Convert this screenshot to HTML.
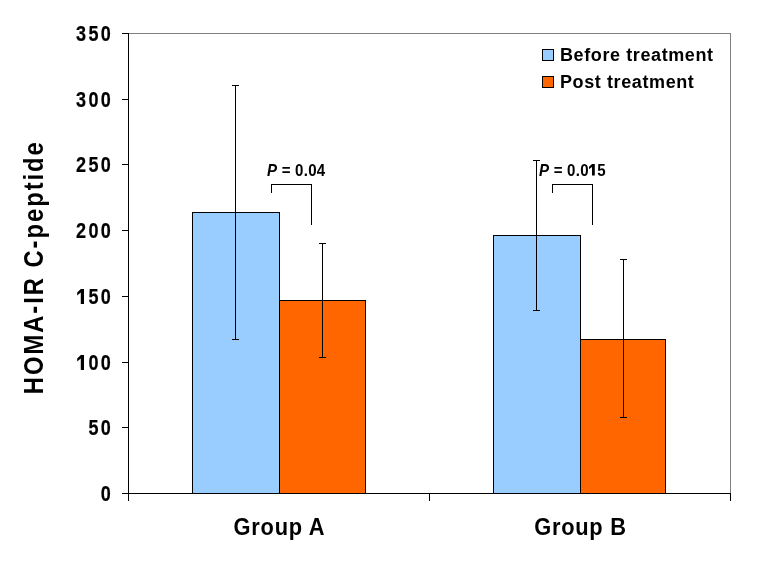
<!DOCTYPE html>
<html>
<head>
<meta charset="utf-8">
<style>
html,body{margin:0;padding:0;background:#fff;}
body{width:761px;height:562px;overflow:hidden;}
svg{display:block;will-change:transform;}
text{font-family:"Liberation Sans",sans-serif;font-weight:bold;fill:#000;}
</style>
</head>
<body>
<svg width="761" height="562" viewBox="0 0 761 562">
<rect x="0" y="0" width="761" height="562" fill="#fff"/>
<g shape-rendering="crispEdges">
<!-- plot border gray -->
<path d="M128 33.5H730.5V493" stroke="#808080" stroke-width="1" fill="none"/>
<!-- bars -->
<rect x="192.5" y="212.5" width="87" height="281" fill="#99ccff" stroke="#000" stroke-width="1"/>
<rect x="279.5" y="300.5" width="86" height="193" fill="#ff6600" stroke="#000" stroke-width="1"/>
<rect x="493.5" y="235.5" width="87" height="258" fill="#99ccff" stroke="#000" stroke-width="1"/>
<rect x="580.5" y="339.5" width="85" height="154" fill="#ff6600" stroke="#000" stroke-width="1"/>
<!-- axes -->
<path d="M128.5 33V501" stroke="#000" stroke-width="1" fill="none"/>
<path d="M122 493.5H731" stroke="#000" stroke-width="1" fill="none"/>
<path d="M122 33.5H128M122 99.5H128M122 164.5H128M122 230.5H128M122 296.5H128M122 362.5H128M122 427.5H128" stroke="#000" stroke-width="1" fill="none"/>
<path d="M429.5 493V501M730.5 493V501" stroke="#000" stroke-width="1" fill="none"/>
<!-- error bars -->
<path d="M235.5 85V340M232 85.5H239M232 339.5H239" stroke="#000" stroke-width="1" fill="none"/>
<path d="M322.5 243V358M319 243.5H326M319 357.5H326" stroke="#000" stroke-width="1" fill="none"/>
<path d="M536.5 160V311M533 160.5H540M533 310.5H540" stroke="#000" stroke-width="1" fill="none"/>
<path d="M623.5 259V418M620 259.5H627M620 417.5H627" stroke="#000" stroke-width="1" fill="none"/>
<!-- brackets -->
<path d="M271.5 193V184.5H311.5V225" stroke="#000" stroke-width="1" fill="none"/>
<path d="M552.5 193V184.5H592.5V225" stroke="#000" stroke-width="1" fill="none"/>
<!-- legend swatches -->
<rect x="542.5" y="49.5" width="11" height="11" fill="#99ccff" stroke="#000" stroke-width="1"/>
<rect x="542.5" y="76.5" width="11" height="11" fill="#ff6600" stroke="#000" stroke-width="1"/>
</g>
<!-- y labels -->
<g font-size="22" text-anchor="end" letter-spacing="2.8" stroke="#000" stroke-width="0.22" transform="translate(112 0) scale(0.82 1)">
<text x="1.3" y="41.5">350</text>
<text x="1.3" y="107.5">300</text>
<text x="1.3" y="172.5">250</text>
<text x="1.3" y="238.5">200</text>
<text x="1.3" y="304.5">&#8199;50</text>
<text x="1.3" y="370.5">&#8199;00</text>
<text x="1.3" y="435.5">50</text>
<text x="1.3" y="501.5">0</text>
</g>
<path d="M80.8 289H84V304H80.8V292.4L77.2 295.6V292.6Z" fill="#000"/>
<path d="M80.8 355H84V370H80.8V358.4L77.2 361.6V358.6Z" fill="#000"/>
<!-- x labels -->
<g font-size="23" text-anchor="middle" letter-spacing="0.8">
<text x="279.5" y="535" transform="translate(279 0) scale(0.95 1) translate(-279 0)">Group A</text>
<text x="580.5" y="535" transform="translate(580 0) scale(0.95 1) translate(-580 0)">Group B</text>
</g>
<!-- y title -->
<text font-size="27" text-anchor="middle" letter-spacing="2.25" transform="translate(42.8 267.2) rotate(-90) scale(0.88 1)">HOMA-IR C-peptide</text>
<!-- p values -->
<g font-size="16.2">
<text x="267" y="176" transform="translate(267 0) scale(0.93 1) translate(-267 0)" letter-spacing="0.25"><tspan font-style="italic">P</tspan> = 0.04</text>
<text x="539" y="176" transform="translate(539 0) scale(0.93 1) translate(-539 0)" letter-spacing="0.25"><tspan font-style="italic">P</tspan> = 0.0&#8199;5</text>
<path d="M592 164.1H594.8V175.6H592V167L589 169.2V166.8Z" fill="#000"/>
</g>
<!-- legend text -->
<g font-size="18" letter-spacing="0.6">
<text x="560" y="61">Before treatment</text>
<text x="560" y="87.5">Post treatment</text>
</g>
</svg>
</body>
</html>
